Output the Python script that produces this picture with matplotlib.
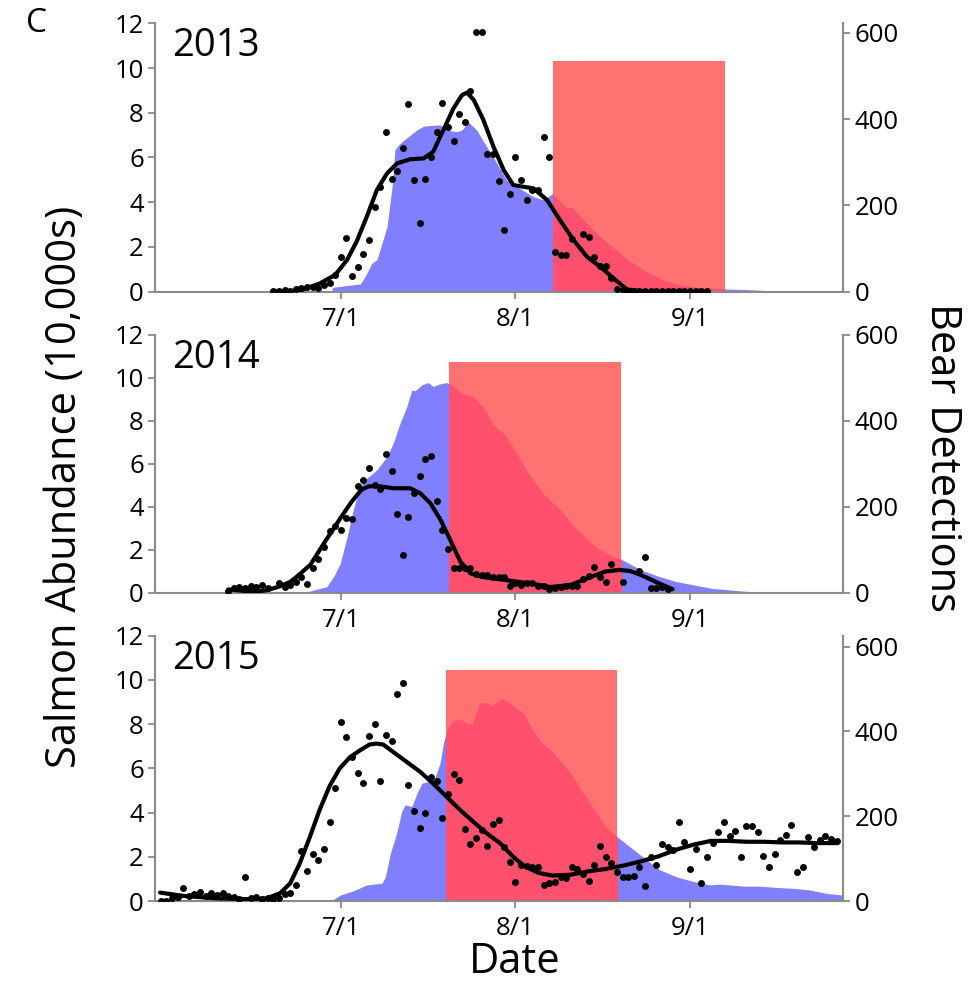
import matplotlib
matplotlib.use("Agg")
import matplotlib.pyplot as plt
from matplotlib.patches import Rectangle

plt.rcParams['font.family'] = ['Open Sans', 'DejaVu Sans']

# x values are days relative to July 1
tick_days = [0, 31, 62]
tick_labels = ["7/1", "8/1", "9/1"]
years = ["2013", "2014", "2015"]

# ---------- 2013 ----------
dots13_x = [-12, -11, -10, -9, -8, -7, -6, -5, -4, -3, -2, -1, 0, 1, 2, 3, 4, 5, 6, 7, 8, 9, 10,
            11, 12, 13, 14, 15, 16, 17, 18, 19, 20, 21, 22, 23, 24, 25, 26, 27, 28, 29, 30, 31,
            32, 33, 34, 35, 36, 37, 38, 39, 40, 41, 43, 44, 45, 46, 47, 48, 49, 50, 51, 52, 53,
            54, 55, 56, 57, 58, 59, 60, 61, 62, 63, 64, 65]
dots13_y = [0.05, 0.04, 0.08, 0.05, 0.12, 0.15, 0.2, 0.22, 0.18, 0.3, 0.4, 0.75, 1.56, 2.41, 0.7,
            1.1, 1.7, 2.3, 3.8, 4.7, 7.15, 5.05, 5.4, 6.44, 8.39, 4.99, 3.06, 5.04, 6.04, 7.15,
            8.42, 7.38, 6.75, 7.94, 7.6, 8.97, 11.62, 11.62, 6.14, 6.14, 4.95, 2.76, 4.35, 6.04,
            4.99, 4.10, 4.55, 4.55, 6.9, 6.0, 1.79, 1.64, 1.66, 2.34, 2.56, 2.46, 1.56, 1.15,
            1.15, 0.63, 0.1, 0.06, 0.05, 0.05, 0.05, 0.05, 0.05, 0.05, 0.05, 0.05, 0.05, 0.05,
            0.05, 0.05, 0.05, 0.05, 0.05]
line13_x = [-12, -10.8, -7.2, -3.7, -1, 1.1, 2.8, 4.6, 6.4, 8.2, 10, 12.3, 14.7, 16.4, 18.2, 20,
            21.5, 22.4, 23.6, 25.3, 27.1, 28.9, 30.6, 32.4, 34.2, 36.6, 38.9, 41.3, 43.7, 46,
            48.4, 50.8, 55, 60, 65.2]
line13_y = [0.02, 0.0, 0.05, 0.37, 0.75, 1.42, 2.24, 3.35, 4.55, 5.29, 5.74, 5.92, 5.96, 6.26,
            7.23, 8.2, 8.79, 8.9, 8.57, 7.68, 6.48, 5.44, 4.77, 4.69, 4.62, 4.1, 3.2, 2.31, 1.56,
            1.12, 0.6, 0.1, -0.03, -0.03, 0.0]
bear13_x = [-1.6, -1.5, 1, 3.5, 4.5, 5.5, 6.4, 8.2, 9.1, 9.6, 10.5, 12, 13.5, 14.7, 17.6, 18.8,
            20.6, 21.5, 22.6, 24.1, 25.9, 27.7, 29.4, 31.2, 34.2, 36, 37.6, 40.1, 41, 42.5, 45.4,
            48.4, 51.4, 54.3, 57.3, 60.2, 63.2, 68.2, 72, 79]
bear13_y = [0, 10, 14, 18, 40, 66, 74, 151, 244, 329, 344, 360, 375, 384, 387, 375, 371, 375, 394,
            375, 336, 298, 259, 244, 220, 213, 228, 193, 197, 174, 135, 101, 70, 46, 27, 15, 10,
            6, 5, 0]
rect13 = (37.7, 68.2, 534)

# ---------- 2014 ----------
dots14_x = [-20, -19, -18, -17, -16, -15, -14, -13, -11, -10, -9, -8, -7, -6, -5, -4, -3, -2, -1,
            0, 1, 2, 3, 4, 5, 6, 7, 8, 9, 10, 11, 12, 13, 14, 15, 16, 17, 18, 19, 20, 21, 22, 23,
            24, 25, 26, 27, 28, 29, 30, 31, 32, 33, 34, 35, 36, 37, 38, 39, 40, 41, 42, 43, 44,
            45, 46, 47, 48, 50, 53, 54, 55, 56, 57, 58]
dots14_y = [0.08, 0.2, 0.28, 0.2, 0.31, 0.28, 0.36, 0.2, 0.44, 0.28, 0.36, 0.51, 0.75, 0.40, 1.14,
            1.56, 2.14, 2.89, 3.11, 2.92, 3.46, 3.42, 4.97, 5.25, 5.79, 5.01, 4.81, 6.46, 5.68,
            3.66, 1.76, 3.51, 4.63, 5.45, 6.21, 6.37, 4.27, 2.92, 2.02, 1.14, 1.14, 1.14, 1.16,
            0.86, 0.84, 0.82, 0.72, 0.74, 0.72, 0.31, 0.44, 0.36, 0.44, 0.47, 0.29, 0.32, 0.19,
            0.23, 0.25, 0.31, 0.3, 0.33, 0.62, 0.79, 1.18, 0.74, 0.51, 1.34, 0.51, 1.02, 1.68,
            0.2, 0.2, 0.28, 0.16]
line14_x = [-20, -17, -15, -13, -11, -9, -7.8, -5.4, -3, -0.1, 1.9, 3.6, 4.8, 6.4, 9.3, 12.3,
            14.1, 15.9, 17.7, 19.4, 21.2, 23, 25.3, 28.3, 31.3, 34.3, 37.2, 40.8, 43.8, 46.9,
            49.4, 51.3, 53.3, 56.4, 58.9]
line14_y = [0.15, 0.08, 0.05, 0.12, 0.28, 0.5, 0.75, 1.3, 2.3, 3.46, 4.23, 4.78, 4.94, 4.97, 4.86,
            4.86, 4.63, 4.16, 3.39, 2.46, 1.45, 0.9, 0.72, 0.62, 0.51, 0.4, 0.26, 0.36, 0.67, 0.98,
            1.06, 1.01, 0.82, 0.44, 0.16]
bear14_x = [-6.6, -2.5, -1.3, -0.1, 1.1, 2.2, 3.4, 4.6, 6.4, 8.2, 9.3, 10.5, 11.7, 12.6, 13.2,
            14.4, 15.5, 16.4, 17.6, 18.8, 20, 21.5, 23.3, 25.2, 27.1, 28.9, 30.8, 33.3, 35.8,
            38.9, 42, 45.2, 48.3, 49.7, 53.3, 56.4, 59.5, 65.8, 72, 77]
bear14_y = [0, 14, 37, 68, 130, 193, 247, 266, 286, 317, 348, 394, 433, 472, 470, 484, 489, 480,
            486, 489, 481, 463, 458, 433, 390, 371, 333, 278, 232, 193, 146, 107, 84, 78, 53, 38,
            26, 10, 3, 0]
rect14 = (19.2, 49.7, 538)

# ---------- 2015 ----------
dots15_x = list(range(-32, 89))
dots15_y = [0, 0, 0.12, 0.2, 0.57, 0.23, 0.32, 0.42, 0.23, 0.38, 0.27, 0.35, 0.23, 0.17, 0.08,
            1.1, 0.12, 0.2, 0.08, 0.12, 0.08, 0.12, 0.32, 0.38, 0.72, 2.28, 1.36, 2.11, 1.85,
            2.37, 3.59, 5.13, 8.08, 7.43, 6.53, 5.78, 5.33, 7.46, 8.0, 5.43, 7.5, 7.25, 9.36,
            9.84, 5.25, 4.09, 3.29, 4.0, 5.63, 5.43, 3.77, 4.84, 5.75, 5.48, 3.25, 2.59, 2.87,
            3.19, 2.51, 3.47, 3.66, 2.46, 1.75, 0.88, 1.63, 1.6, 1.52, 1.55, 0.72, 0.82, 0.84,
            1.1, 1.06, 1.55, 1.43, 1.24, 0.89, 1.62, 2.5, 1.97, 1.70, 1.32, 1.07, 1.07, 1.15,
            1.52, 0.68, 1.97, 1.62, 2.6, 2.46, 2.31, 3.59, 2.69, 1.43, 2.34, 0.81, 2.0, 2.64,
            3.1, 3.59, 2.93, 3.16, 1.97, 3.4, 3.4, 3.1, 2.02, 1.55, 2.13, 2.76, 2.99, 3.44, 1.31,
            1.55, 2.91, 2.46, 2.76, 2.93, 2.82, 2.73]
line15_x = [-32.1, -27.9, -22, -16, -13.2, -10.8, -9, -7.3, -5.5, -3.8, -2, -0.2, 1.6, 3.3, 5.1,
            6.3, 7.5, 9.3, 11.7, 14.1, 16.4, 18.8, 21.2, 23.5, 25.9, 28.3, 30.6, 32.6, 35.1, 37.6,
            40.8, 43.9, 47, 50.1, 53.2, 56.4, 59.5, 62.6, 65.7, 68.9, 72, 75.1, 78.2, 81.4, 84.5,
            88.2]
line15_y = [0.38, 0.23, 0.12, 0.08, 0.12, 0.35, 0.8, 1.7, 2.9, 4.1, 5.2, 6.0, 6.5, 6.8, 7.08,
            7.12, 7.08, 6.74, 6.29, 5.84, 5.31, 4.71, 4.11, 3.59, 3.06, 2.61, 2.0, 1.57, 1.27,
            1.15, 1.19, 1.34, 1.45, 1.6, 1.79, 2.02, 2.32, 2.55, 2.72, 2.72, 2.68, 2.68, 2.65,
            2.65, 2.62, 2.62]
bear15_x = [-4.9, -1.3, -0.1, 2.2, 4.6, 7.3, 7.9, 8.8, 9.9, 10.8, 11.4, 12.6, 13.5, 14.4, 15.5,
            16.7, 17.6, 18.2, 18.8, 20, 21.2, 22.4, 23.4, 24.6, 25.9, 26.8, 28.6, 30.6, 32.4,
            34.2, 35.6, 37.4, 40.8, 43.9, 47, 49, 51.3, 54.3, 56.7, 59.6, 62.6, 65.5, 67.3, 71.5,
            74.4, 77.4, 80.3, 83.3, 86.2, 89.2]
bear15_y = [0, 4, 14, 24, 38, 42, 57, 113, 160, 211, 227, 223, 254, 278, 282, 290, 325, 372, 403,
            427, 429, 419, 419, 467, 468, 460, 478, 462, 443, 400, 374, 355, 301, 238, 175, 152,
            128, 97, 73, 57, 46, 38, 40, 35, 35, 32, 30, 26, 18, 14]
rect15 = (18.6, 49.0, 546)

panels = [
    (years[0], dots13_x, dots13_y, line13_x, line13_y, bear13_x, bear13_y, rect13, 622.5,
     [0.1583, 0.7033, 0.7031, 0.2730]),
    (years[1], dots14_x, dots14_y, line14_x, line14_y, bear14_x, bear14_y, rect14, 600,
     [0.1583, 0.3971, 0.7031, 0.2622]),
    (years[2], dots15_x, dots15_y, line15_x, line15_y, bear15_x, bear15_y, rect15, 626,
     [0.1583, 0.0834, 0.7031, 0.2699]),
]

BLUE = "#8080FF"
RED = "#FF7272"
PINK = "#FF506E"
GRAY = "#8a8a8a"
TICKFS = 18.5

fig = plt.figure(figsize=(9.79, 9.83), dpi=100)

for (yr, dx, dy, lx, ly, bx, by, rect, rtop, pos) in panels:
    ax = fig.add_axes(pos)
    axr = ax.twinx()
    axr.set_position(pos)
    ax.set_zorder(axr.get_zorder() + 1)
    ax.patch.set_visible(False)

    ax.set_xlim(-33, 89.2)
    axr.set_xlim(-33, 89.2)
    ax.set_ylim(0, 12)
    axr.set_ylim(0, rtop)

    # bear detections (right axis)
    axr.fill_between(bx, 0, by, color=BLUE, lw=0, zorder=1)
    r = Rectangle((rect[0], 0), rect[1] - rect[0], rect[2], facecolor=RED, edgecolor='none',
                  zorder=2)
    axr.add_patch(r)
    over = axr.fill_between(bx, 0, by, color=PINK, lw=0, zorder=3)
    over.set_clip_path(r)

    # salmon (left axis)
    ax.plot(dx, dy, 'o', color='black', ms=5.0, mew=0, zorder=5)
    ax.plot(lx, ly, '-', color='black', lw=3.0, solid_capstyle='round',
            solid_joinstyle='round', zorder=6)

    ax.set_yticks([0, 2, 4, 6, 8, 10, 12])
    axr.set_yticks([0, 200, 400, 600])
    ax.set_xticks(tick_days)
    ax.set_xticklabels(tick_labels)

    for a in (ax, axr):
        for s in a.spines.values():
            s.set_visible(False)
        a.tick_params(colors=GRAY, labelcolor='black', labelsize=TICKFS, length=5, width=1.3,
                      pad=3)
    ax.spines['left'].set_visible(True)
    ax.spines['bottom'].set_visible(True)
    axr.spines['right'].set_visible(True)
    for s in (ax.spines['left'], ax.spines['bottom'], axr.spines['right']):
        s.set_color(GRAY)
        s.set_linewidth(1.5)
    ax.tick_params(axis='x', length=5, pad=6)
    axr.tick_params(axis='x', bottom=False, labelbottom=False)

    ax.text(0.025, 0.985, yr, transform=ax.transAxes, ha='left', va='top', fontsize=27.5)

fig.text(0.027, 0.993, "C", ha='left', va='top', fontsize=24)
fig.text(0.066, 0.505, "Salmon Abundance (10,000s)", rotation=90, ha='center', va='center',
         fontsize=30)
fig.text(0.962, 0.535, "Bear Detections", rotation=270, ha='center', va='center', fontsize=30)
fig.text(0.526, 0.021, "Date", ha='center', va='center', fontsize=30)

fig.savefig("out.png", dpi=100)
